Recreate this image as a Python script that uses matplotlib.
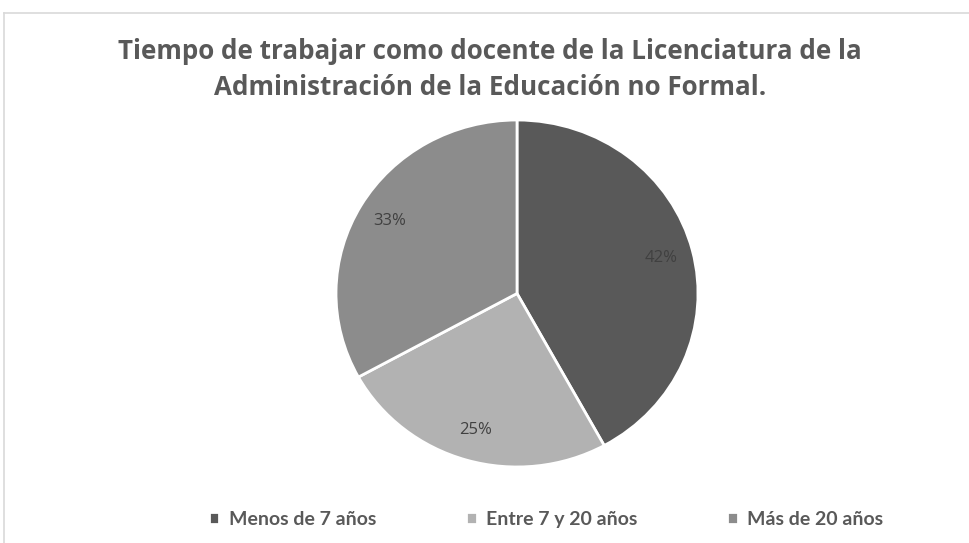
import matplotlib
matplotlib.use("Agg")
import matplotlib.pyplot as plt
from matplotlib.lines import Line2D

plt.rcParams['font.family'] = ['Open Sans', 'DejaVu Sans']

# Datos
categorias = ["Menos de 7 años", "Entre 7 y 20 años", "Más de 20 años"]
porcentajes = [42, 25, 33]
colores = ["#595959", "#b2b2b2", "#8c8c8c"]

titulo = ("Tiempo de trabajar como docente de la Licenciatura de la\n"
          "Administración de la Educación no Formal.")

fig = plt.figure(figsize=(9.7, 5.43), dpi=100)

# marco del area del grafico (se sale por la derecha y abajo)
fig.add_artist(Line2D([4 / 970, 4 / 970], [0, 1 - 12.5 / 543], color="#d9d9d9", lw=1.2))
fig.add_artist(Line2D([4 / 970, 1], [1 - 12.5 / 543, 1 - 12.5 / 543], color="#d9d9d9", lw=1.2))

fig.text(0.505, 0.872, titulo, ha="center", va="center", fontsize=18.7,
         fontweight="bold", color="#595959", linespacing=1.4)

# el original esta algo estirado en horizontal, por eso sin aspecto igual
ax = fig.add_axes([0.3464, 0.140, 0.3732, 0.639])
wedges, textos, autotextos = ax.pie(
    porcentajes, colors=colores, startangle=90, counterclock=False,
    autopct="%1.0f%%", pctdistance=0.82, radius=1,
    wedgeprops=dict(edgecolor="white", linewidth=2),
    textprops=dict(color="#404040", fontsize=12))
ax.set_xlim(-1, 1)
ax.set_ylim(-1, 1)
ax.set_aspect("auto")
ax.axis("off")

fig.legend(wedges, categorias, loc="center", bbox_to_anchor=(0.563, 0.043),
           ncol=3, frameon=False, labelcolor="#595959",
           prop=dict(family=['Lato', 'DejaVu Sans'], size=14, weight="bold"),
           handlelength=0.55, handleheight=0.55, handletextpad=0.5,
           columnspacing=4.6)

fig.savefig("out.png", dpi=100, facecolor="white")
